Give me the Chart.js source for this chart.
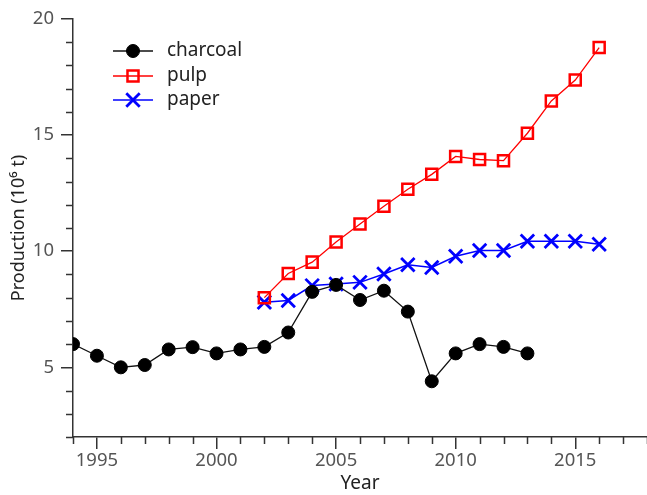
<!DOCTYPE html>
<html lang="en">
<head>
  <meta charset="UTF-8" />
  <title>Production</title>
  <script src="https://cdn.jsdelivr.net/npm/chart.js"></script>
  <style>
    html, body { margin: 0; padding: 0; background: #fff; }
    #wrap { width: 647px; height: 495px; }
  </style>
</head>
<body>
  <div id="wrap"><canvas id="prodChart" width="647" height="495"></canvas></div>

  <script>
    // data
    const charcoalYears = [1994, 1995, 1996, 1997, 1998, 1999, 2000, 2001, 2002, 2003, 2004, 2005, 2006, 2007, 2008, 2009, 2010, 2011, 2012, 2013];
    const charcoal = [6.0, 5.5, 5.0, 5.1, 5.77, 5.87, 5.6, 5.77, 5.88, 6.5, 8.25, 8.55, 7.9, 8.3, 7.4, 4.4, 5.6, 6.0, 5.88, 5.6];
    const pulpYears = [2002, 2003, 2004, 2005, 2006, 2007, 2008, 2009, 2010, 2011, 2012, 2013, 2014, 2015, 2016];
    const pulp = [8.0, 9.04, 9.53, 10.4, 11.17, 11.94, 12.67, 13.31, 14.08, 13.95, 13.9, 15.08, 16.47, 17.37, 18.77];
    const paperYears = [2002, 2003, 2004, 2005, 2006, 2007, 2008, 2009, 2010, 2011, 2012, 2013, 2014, 2015, 2016];
    const paper = [7.8, 7.88, 8.52, 8.59, 8.66, 9.02, 9.42, 9.3, 9.78, 10.03, 10.03, 10.43, 10.43, 10.43, 10.3];
    const xTicks = [1995, 2000, 2005, 2010, 2015];
    const yTicks = [5, 10, 15, 20];

    const FONT = "'Noto Sans', 'Open Sans', sans-serif";
    const AXIS = '#333';

    const toXY = (xs, ys) => xs.map((x, i) => ({ x: x, y: ys[i] }));

    // minor tick marks + custom legend
    const extras = {
      id: 'extras',
      afterDraw(chart) {
        const ctx = chart.ctx;
        const xs = chart.scales.x, ys = chart.scales.y;
        const area = chart.chartArea;
        ctx.save();
        ctx.strokeStyle = AXIS;
        ctx.lineWidth = 1.5;
        for (let v = 1994; v <= 2018; v++) {
          if (xTicks.includes(v)) continue;
          const px = Math.round(xs.getPixelForValue(v)) + 0.5;
          ctx.beginPath();
          ctx.moveTo(px, area.bottom);
          ctx.lineTo(px, area.bottom + 7);
          ctx.stroke();
        }
        for (let v = 2; v <= 20; v++) {
          if (yTicks.includes(v)) continue;
          const py = Math.round(ys.getPixelForValue(v)) + 0.5;
          ctx.beginPath();
          ctx.moveTo(area.left, py);
          ctx.lineTo(area.left - 7, py);
          ctx.stroke();
        }

        // legend
        const rows = [51, 76, 100];
        chart.data.datasets.forEach((ds, i) => {
          const y = rows[i];
          ctx.strokeStyle = ds.borderColor;
          ctx.lineWidth = ds.borderWidth;
          ctx.beginPath();
          ctx.moveTo(113, y);
          ctx.lineTo(153, y);
          ctx.stroke();
          ctx.fillStyle = ds.pointBackgroundColor;
          ctx.strokeStyle = ds.pointBorderColor;
          ctx.lineWidth = ds.pointBorderWidth;
          Chart.helpers.drawPoint(ctx, {
            pointStyle: ds.pointStyle,
            radius: ds.pointRadius,
            borderWidth: ds.pointBorderWidth,
            rotation: 0
          }, 133, y);
          ctx.fillStyle = '#222';
          ctx.font = '19px ' + FONT;
          ctx.textBaseline = 'middle';
          ctx.textAlign = 'left';
          ctx.fillText(ds.label, 167, y);
        });
        ctx.restore();
      }
    };

    new Chart(document.getElementById('prodChart'), {
      type: 'line',
      data: {
        datasets: [
          {
            label: 'charcoal',
            data: toXY(charcoalYears, charcoal),
            borderColor: '#111',
            borderWidth: 1.3,
            pointStyle: 'circle',
            pointRadius: 6.5,
            pointBackgroundColor: '#000',
            pointBorderColor: '#000',
            pointBorderWidth: 1
          },
          {
            label: 'pulp',
            data: toXY(pulpYears, pulp),
            borderColor: '#ff0000',
            borderWidth: 1.3,
            pointStyle: 'rect',
            pointRadius: 7.8,
            pointBackgroundColor: 'rgba(0,0,0,0)',
            pointBorderColor: '#ff0000',
            pointBorderWidth: 2.5
          },
          {
            label: 'paper',
            data: toXY(paperYears, paper),
            borderColor: '#0000ff',
            borderWidth: 1.5,
            pointStyle: 'crossRot',
            pointRadius: 9.5,
            pointBackgroundColor: '#0000ff',
            pointBorderColor: '#0000ff',
            pointBorderWidth: 2.8
          }
        ]
      },
      options: {
        responsive: false,
        animation: false,
        layout: { autoPadding: false, padding: { top: 19, right: 0, left: 0, bottom: 0 } },
        plugins: { legend: { display: false }, tooltip: { enabled: false } },
        elements: { line: { tension: 0 } },
        scales: {
          x: {
            type: 'linear',
            min: 1994,
            max: 2018,
            afterFit: (s) => { s.height = 58; },
            afterBuildTicks: (s) => { s.ticks = xTicks.map(v => ({ value: v })); },
            border: { display: true, color: AXIS, width: 1.5 },
            grid: { drawOnChartArea: false, drawTicks: true, tickLength: 12, color: AXIS, lineWidth: 1.5 },
            ticks: { color: '#555', font: { family: FONT, size: 18.5 }, padding: 1, maxRotation: 0, callback: (v) => String(v) },
            title: { display: true, text: 'Year', color: '#222', font: { family: FONT, size: 19 }, padding: { top: 0, bottom: 0 } }
          },
          y: {
            min: 2,
            max: 20,
            afterFit: (s) => { s.width = 73; },
            afterBuildTicks: (s) => { s.ticks = yTicks.map(v => ({ value: v })); },
            border: { display: true, color: AXIS, width: 1.5 },
            grid: { drawOnChartArea: false, drawTicks: true, tickLength: 12, color: AXIS, lineWidth: 1.5 },
            ticks: { color: '#555', font: { family: FONT, size: 18.5 }, padding: 7 },
            title: { display: true, text: 'Production (10⁶ t)', color: '#222', font: { family: FONT, size: 18 }, padding: { top: 8, bottom: 0 } }
          }
        }
      },
      plugins: [extras]
    });
  </script>
</body>
</html>
